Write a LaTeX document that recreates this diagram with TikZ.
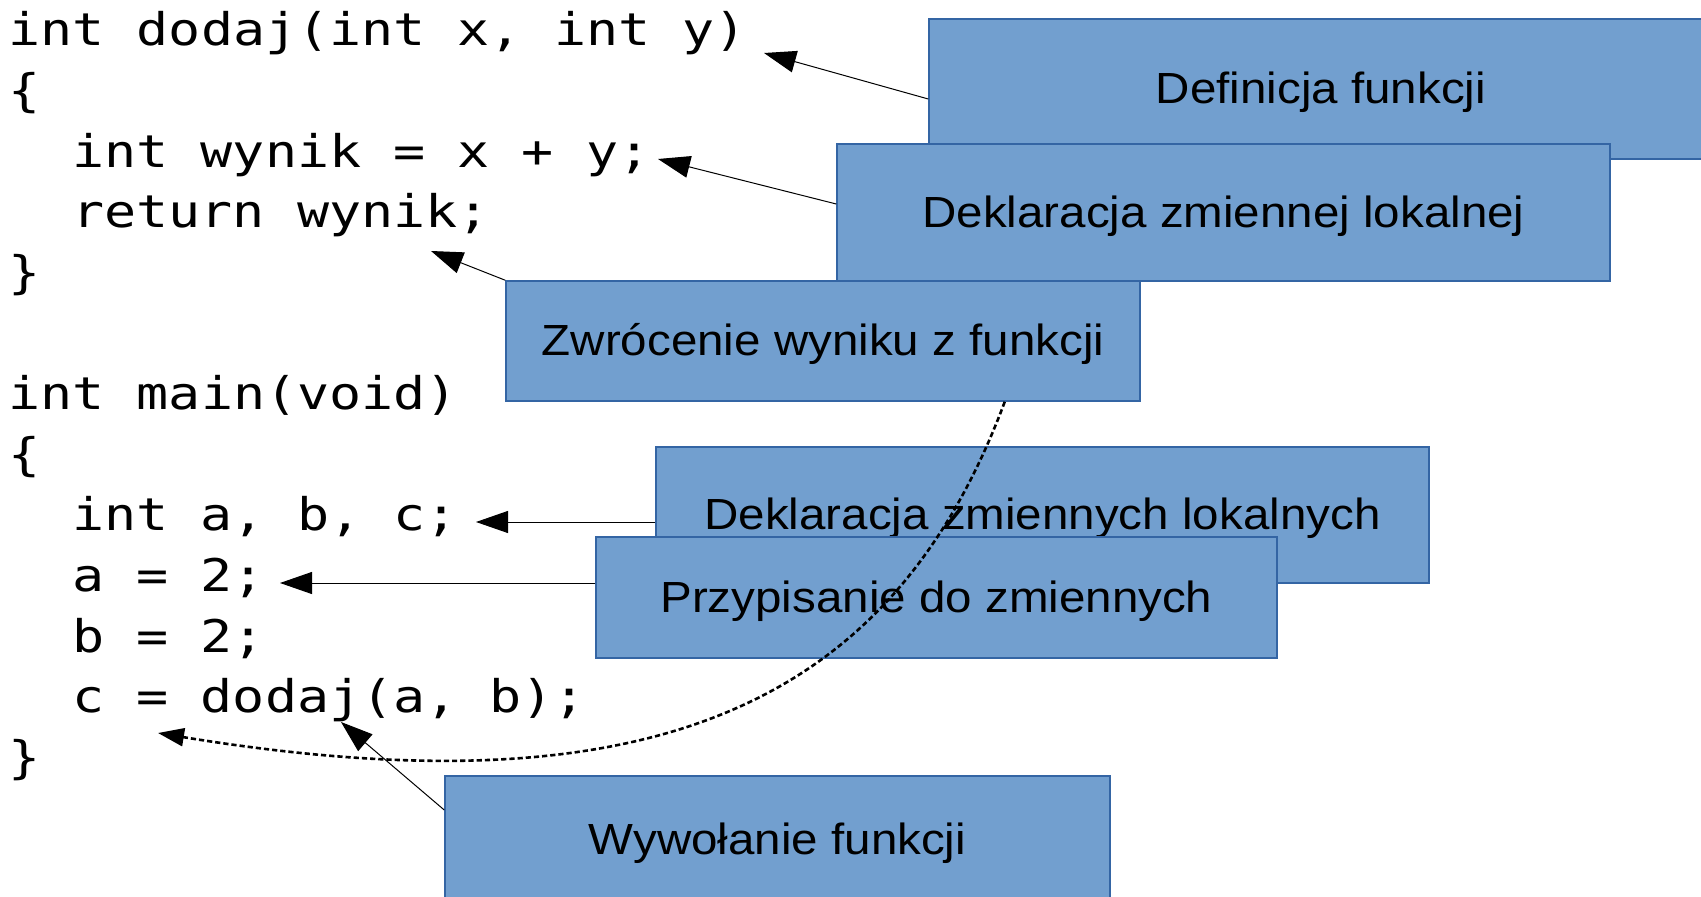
\documentclass[tikz,border=0pt]{standalone}
\usepackage{fontspec}
\usetikzlibrary{arrows.meta,calc}
\newfontfamily\codefont[FakeStretch=1.185]{DejaVu Sans Mono}
\newfontfamily\labelfont[FakeStretch=1.09]{Liberation Sans}
\definecolor{boxfill}{HTML}{729FCF}
\definecolor{boxline}{HTML}{3465A4}
\tikzset{
  box/.style={draw=boxline, fill=boxfill, line width=0.75pt, inner sep=0pt,
    text height=15pt, text depth=0pt,
    font=\labelfont\fontsize{21.8pt}{26pt}\selectfont},
  codeline/.style={anchor=base west, inner sep=0pt,
    font=\codefont\fontsize{22.5pt}{26pt}\selectfont},
  pointer/.style={-{Triangle[length=16pt,width=11pt]}, line width=0.5pt},
  flow/.style={-{Triangle[length=13pt,width=9pt]}, line width=1.3pt,
    dash pattern=on 2.6pt off 1.5pt},
}
\begin{document}
\begin{tikzpicture}[x=0.5pt,y=-0.5pt]
\useasboundingbox (0,0) rectangle (1701,897);
\clip (0,0) rectangle (1701,897);

% source code, one node per line
\node[codeline] (c1)  at (8,46)      {int dodaj(int x, int y)};
\node[codeline] (c2)  at (8,106.6)   {\{};
\node[codeline] (c3)  at (72,167.2)  {int wynik = x + y;};
\node[codeline] (c4)  at (72,227.8)  {return wynik;};
\node[codeline] (c5)  at (8,288.4)   {\}};
\node[codeline] (c7)  at (8,409.6)   {int main(void)};
\node[codeline] (c8)  at (8,470.2)   {\{};
\node[codeline] (c9)  at (72,530.8)  {int a, b, c;};
\node[codeline] (c10) at (72,591.4)  {a = 2;};
\node[codeline] (c11) at (72,652)    {b = 2;};
\node[codeline] (c12) at (72,712.6)  {c = dodaj(a, b);};
\node[codeline] (c13) at (8,773.2)   {\}};

% points the callouts aim at
\coordinate (t1) at (764,53);
\coordinate (t2) at (658,159);
\coordinate (t3) at (431,251);
\coordinate (t4) at (476,522);
\coordinate (t5) at (280,583);
\coordinate (t6) at (341,722);
\coordinate (t7) at (158,733);

% callout boxes
\node[box, minimum width=392pt,   minimum height=70pt]   (defn)   at (1321,89)     {Definicja funkcji};
\node[box, minimum width=386.5pt, minimum height=68.5pt] (decl1)  at (1223.5,212.5) {Deklaracja zmiennej lokalnej};
\node[box, minimum width=317pt,   minimum height=60pt]   (ret)    at (823,341)     {Zwrócenie wyniku z funkcji};
\node[box, minimum width=386.5pt, minimum height=68pt]   (decl2)  at (1042.5,515)  {Deklaracja zmiennych lokalnych};
\node[box, minimum width=340.5pt, minimum height=60.5pt] (assign) at (936.5,597.5) {Przypisanie do zmiennych};
\node[box, minimum width=332.5pt, minimum height=63pt]   (call)   at (777.5,839)   {Wywołanie funkcji};

% pointers
\draw[pointer] ($(defn.west)+(0,10)$) -- (t1);
\draw[pointer] ($(decl1.west)+(0,-8.5)$) -- (t2);
\draw[pointer] (ret.north west) -- (t3);
\draw[pointer] ($(decl2.west)+(0,7)$) -- (t4);
\draw[pointer] ($(assign.west)+(0,-14.5)$) -- (t5);
\draw[pointer] ($(call.west)+(0,-29)$) -- (t6);

% return of control to the caller
\draw[flow] ($(ret.south east)+(-136,0)$) .. controls (893,701) and (658,815) .. (t7);
\end{tikzpicture}
\end{document}
